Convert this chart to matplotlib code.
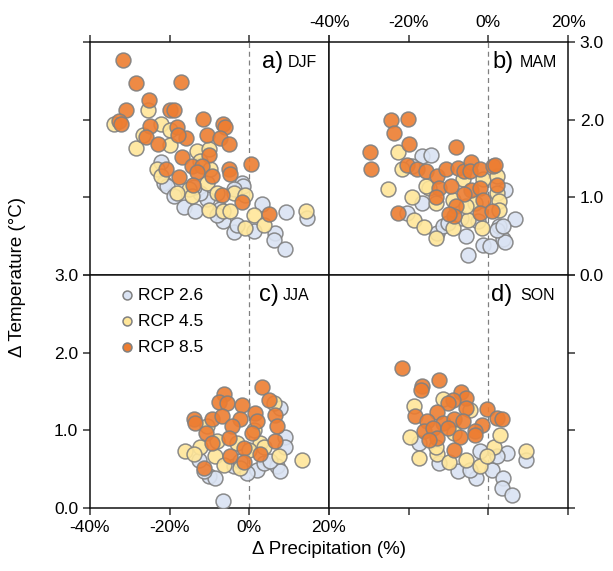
import numpy as np
import matplotlib
matplotlib.use("Agg")
import matplotlib.pyplot as plt

plt.rcParams['font.family'] = ['Liberation Sans', 'DejaVu Sans']

# data: (precipitation change %, temperature change degC)
djf_26 = [(-22.3, 1.45), (-21.5, 1.19), (-20.7, 1.15), (-16.5, 0.87), (-13.6, 0.82), (-10.6, 0.98),
          (-7.3, 0.85), (-6.5, 0.70), (-3.9, 0.55), (-1.8, 1.19), (-1.6, 1.15), (3.2, 0.91),
          (6.5, 0.54), (6.1, 0.45), (9.0, 0.34), (9.3, 0.81), (14.5, 0.74), (1.1, 0.57),
          (-3.9, 1.11), (-12.3, 1.06), (-8.1, 0.77), (-3.1, 0.64), (-14.0, 1.13), (-19.0, 1.02)]
djf_45 = [(-34.1, 1.94), (-25.5, 2.13), (-22.3, 1.95), (-28.4, 1.64), (-26.7, 1.80), (-19.8, 1.87),
          (-19.8, 1.68), (-13.1, 1.60), (-10.2, 1.62), (-12.3, 1.47), (-23.2, 1.36), (-22.3, 1.28),
          (-15.2, 1.11), (-18.2, 1.06), (-10.6, 1.19), (-8.1, 1.06), (-3.9, 1.06), (-1.0, 1.03),
          (-10.0, 0.84), (-6.6, 0.83), (-4.8, 0.82), (1.1, 0.77), (3.8, 0.64), (-1.0, 0.60),
          (14.2, 0.83), (-9.8, 1.36), (-14.4, 1.02)]
djf_85 = [(-31.6, 2.77), (-28.4, 2.47), (-17.1, 2.48), (-25.3, 2.25), (-31.0, 2.12), (-32.8, 1.98),
          (-32.3, 1.94), (-19.8, 2.13), (-19.0, 2.13), (-11.6, 2.01), (-6.6, 1.94), (-6.0, 1.91),
          (-24.9, 1.92), (-18.2, 1.91), (-10.6, 1.80), (-26.0, 1.78), (-22.9, 1.69), (-15.8, 1.77),
          (-7.3, 1.77), (-5.2, 1.69), (-16.9, 1.52), (-10.0, 1.54), (0.3, 1.43), (-20.8, 1.36),
          (-14.4, 1.40), (-11.9, 1.40), (-13.1, 1.32), (-9.4, 1.28), (-5.2, 1.36), (-4.8, 1.30),
          (-17.7, 1.26), (-14.1, 1.16), (-6.9, 1.03), (-1.8, 0.94), (4.9, 0.79), (-17.9, 1.80)]

mam_26 = [(-16.6, 1.53), (-14.5, 1.54), (-19.1, 1.40), (-20.4, 0.80), (-16.6, 0.93), (-12.8, 0.54),
          (-11.5, 0.63), (-5.5, 0.50), (-5.1, 0.26), (-1.3, 0.39), (0.4, 0.37), (3.8, 0.46),
          (4.3, 0.43), (6.8, 0.72), (4.3, 1.10), (2.6, 0.63), (2.1, 0.58), (-6.8, 0.73),
          (-10.2, 0.67), (3.8, 0.63), (-2.5, 0.70)]
mam_45 = [(-22.7, 1.59), (-25.1, 1.11), (-21.7, 1.36), (-19.1, 1.01), (-18.7, 0.71), (-16.2, 0.62),
          (-13.2, 0.48), (-14.9, 1.12), (-13.2, 0.93), (-8.9, 0.61), (-5.1, 0.71), (-1.7, 0.61),
          (-3.4, 0.93), (2.1, 1.06), (2.6, 0.95), (2.6, 0.84), (-6.4, 1.23), (-1.3, 1.23),
          (2.1, 1.27), (-15.7, 1.14), (-8.9, 0.97), (-5.5, 0.89)]
mam_85 = [(-24.5, 1.99), (-20.2, 2.01), (-23.8, 1.83), (-19.8, 1.69), (-29.6, 1.58), (-29.4, 1.37),
          (-20.4, 1.42), (-17.9, 1.36), (-15.7, 1.34), (-12.8, 1.27), (-10.6, 1.36), (-8.1, 1.65),
          (-7.7, 1.38), (-6.0, 1.34), (-4.3, 1.45), (-4.7, 1.34), (-2.1, 1.36), (1.1, 1.40),
          (1.7, 1.42), (2.1, 1.16), (-12.3, 1.12), (-9.4, 1.14), (-4.3, 1.10), (-2.1, 1.12),
          (-6.0, 1.04), (-13.2, 1.01), (-1.3, 0.97), (-8.1, 0.89), (-8.5, 0.76), (-2.1, 0.80),
          (0.9, 0.82), (-22.6, 0.80), (-9.8, 0.78)]

jja_26 = [(-6.6, 0.09), (-10.2, 0.41), (-8.5, 0.39), (-11.5, 0.47), (1.9, 0.49), (3.6, 0.58),
          (6.9, 0.54), (7.8, 0.47), (9.0, 0.92), (9.0, 0.79), (7.8, 1.29), (-3.9, 0.54),
          (-12.7, 0.62), (-2.3, 0.60), (5.2, 0.60), (-0.6, 0.45)]
jja_45 = [(-16.1, 0.74), (13.2, 0.62), (7.4, 0.67), (6.1, 1.35), (-12.3, 0.79), (-8.5, 0.67),
          (-6.4, 0.56), (-2.3, 0.52), (2.8, 0.84), (3.6, 0.79), (-10.6, 1.05), (-8.1, 0.86),
          (-3.1, 0.84), (-0.2, 0.75), (-14.0, 0.69), (1.1, 1.00)]
jja_85 = [(3.2, 1.56), (4.9, 1.39), (-6.4, 1.47), (-7.7, 1.36), (-5.6, 1.35), (-1.8, 1.33),
          (-14.0, 1.15), (-13.6, 1.09), (-9.4, 1.15), (-6.9, 1.18), (-2.3, 1.14), (1.5, 1.22),
          (1.9, 1.12), (6.5, 1.20), (6.9, 1.06), (-4.4, 1.05), (-11.0, 0.96), (-9.4, 0.84),
          (-5.2, 0.90), (0.7, 0.97), (-1.4, 0.77), (6.5, 0.86), (-4.8, 0.67), (2.8, 0.69),
          (-1.4, 0.59), (-11.5, 0.52)]

son_26 = [(-17.4, 0.84), (-12.3, 0.58), (-7.7, 0.47), (-3.0, 0.39), (0.9, 0.49), (3.8, 0.39),
          (3.4, 0.26), (6.0, 0.17), (9.4, 0.62), (4.7, 0.71), (2.1, 0.67), (-4.7, 0.49),
          (-2.1, 0.73)]
son_45 = [(-18.7, 1.31), (-19.6, 0.92), (-17.4, 0.64), (-12.8, 0.70), (-9.8, 0.59), (-5.5, 0.62),
          (-2.1, 0.54), (1.3, 0.79), (3.0, 0.94), (9.4, 0.73), (-0.4, 0.67), (-11.5, 1.40),
          (-13.2, 0.79), (-8.5, 0.97), (-4.7, 1.26)]
son_85 = [(-21.7, 1.80), (-12.3, 1.65), (-16.6, 1.57), (-17.0, 1.52), (-6.8, 1.50), (-5.5, 1.42),
          (-8.9, 1.39), (-10.2, 1.35), (-5.5, 1.29), (-0.4, 1.27), (2.1, 1.16), (3.4, 1.15),
          (-18.3, 1.18), (-12.8, 1.23), (-15.3, 1.12), (-11.5, 1.09), (-8.5, 1.14), (-6.4, 1.12),
          (-1.7, 1.07), (-3.4, 0.99), (-16.2, 0.99), (-14.0, 1.03), (-10.2, 1.03), (-7.2, 0.92),
          (-3.4, 0.94), (-12.8, 0.90), (-8.5, 0.75), (-14.9, 0.88)]

seasons = ['DJF', 'MAM', 'JJA', 'SON']
letters = ['a)', 'b)', 'c)', 'd)']
season_data = [(djf_26, djf_45, djf_85), (mam_26, mam_45, mam_85),
               (jja_26, jja_45, jja_85), (son_26, son_45, son_85)]
scen_labels = ['RCP 2.6', 'RCP 4.5', 'RCP 8.5']
scen_colors = ['#dae3f3', '#ffe699', '#ed7d31']
xticks = [-40, -20, 0, 20]
yticks = [0, 1, 2, 3]

fig = plt.figure(figsize=(6.13, 5.71), dpi=100)
L, B, W, H = 90/613, 63/571, 239/613, 233/571
pos = [(L, B+H), (L+W, B+H), (L, B), (L+W, B)]
letter_x = [0.72, 0.682, 0.707, 0.678]
season_x = [0.828, 0.797, 0.808, 0.80]

axes = []
for i in range(4):
    ax = fig.add_axes([pos[i][0], pos[i][1], W, H])
    axes.append(ax)
    for k, pts in enumerate(season_data[i]):
        arr = np.array(pts)
        ax.scatter(arr[:, 0], arr[:, 1], s=115, c=scen_colors[k], edgecolors='#808080',
                   linewidths=1.1, alpha=0.9, label=scen_labels[k], zorder=3+k)
    ax.axvline(0, color='#808080', ls=(0, (4, 3)), lw=0.9, zorder=1)
    ax.set_xlim(-40, 20)
    ax.set_ylim(0, 3)
    ax.set_xticks(xticks)
    ax.set_yticks(yticks)
    for sp in ax.spines.values():
        sp.set_linewidth(1.1)
        sp.set_color('#111111')
    ax.tick_params(direction='out', length=5, width=1.1, color='#333333', labelsize=12.5)
    ax.text(letter_x[i], 0.915, letters[i], transform=ax.transAxes,
            fontsize=17, va='center', ha='left')
    ax.text(season_x[i], 0.91, seasons[i], transform=ax.transAxes,
            fontsize=11.5, va='center', ha='left')

xfmt = lambda v: '%d%%' % v
yfmt = lambda v: '%.1f' % v

# a: ticks top and left, no labels
axes[0].tick_params(top=True, bottom=False, left=True, right=False,
                    labeltop=False, labelbottom=False, labelleft=False)
# b: ticks and labels top and right
axes[1].tick_params(top=True, bottom=False, left=False, right=True,
                    labeltop=True, labelbottom=False, labelleft=False, labelright=True)
axes[1].set_xticklabels([xfmt(v) for v in xticks])
axes[1].set_yticklabels([yfmt(v) for v in yticks])
# c: ticks and labels bottom and left
axes[2].tick_params(top=False, bottom=True, left=True, right=False,
                    labelbottom=True, labelleft=True)
axes[2].set_xticklabels([xfmt(v) for v in xticks])
axes[2].set_yticklabels([yfmt(v) for v in yticks])
# d: ticks bottom and right, no labels
axes[3].tick_params(top=False, bottom=True, left=False, right=True,
                    labelbottom=False, labelleft=False, labelright=False)

leg = axes[2].legend(loc='upper left', bbox_to_anchor=(0.08, 0.99), frameon=False,
                     fontsize=12.5, handlelength=0.9, handletextpad=0.15, labelspacing=0.62,
                     borderaxespad=0.2, markerscale=0.6, scatterpoints=1)
for h in leg.legend_handles:
    h.set_alpha(1)

fig.text(18/613, 1 - 277/571, 'Δ Temperature (°C)', rotation=90, ha='center', va='center', fontsize=13.5)
fig.text(329/613, 1 - 549/571, 'Δ Precipitation (%)', ha='center', va='center', fontsize=13.5)

plt.savefig('out.png', dpi=100)
